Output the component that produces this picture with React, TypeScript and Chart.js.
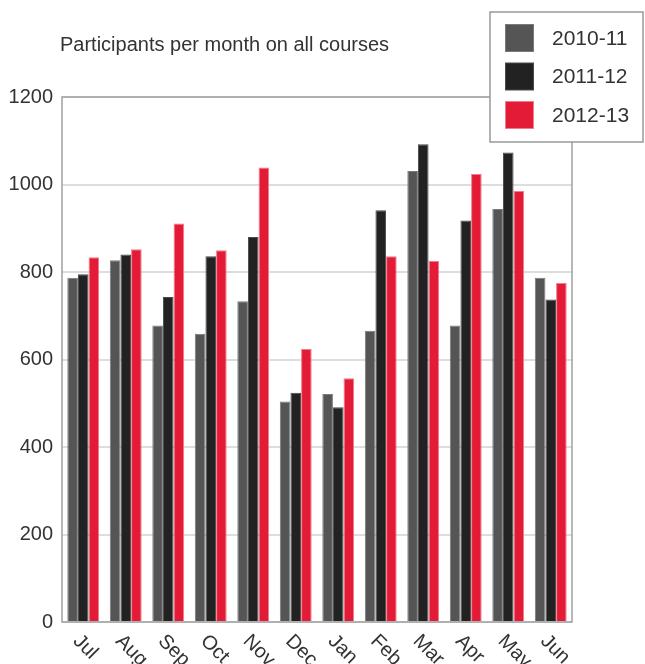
import React, { useEffect, useRef } from "react";
import { Chart, registerables } from "chart.js";

Chart.register(...registerables);

const categories = ["Jul", "Aug", "Sep", "Oct", "Nov", "Dec", "Jan", "Feb", "Mar", "Apr", "May", "Jun"];
const seriesLabels = ["2010-11", "2011-12", "2012-13"];
const values2010 = [787, 827, 678, 659, 733, 504, 521, 666, 1031, 678, 944, 787];
const values2011 = [795, 840, 743, 836, 880, 524, 491, 941, 1092, 918, 1073, 737];
const values2012 = [834, 852, 911, 850, 1039, 624, 557, 836, 825, 1024, 985, 775];
const chartTitle = "Participants per month on all courses";

const FONT = "'Liberation Sans', Arial, Helvetica, sans-serif";
const fills = ["#555555", "#222222", "#e31b37"];
const borders = ["#7a7a7a", "#4a4a4a", "#f27a8a"];

const customPlugin = {
  id: "custom",
  beforeDatasetsDraw(chart: any) {
    const { ctx, chartArea } = chart;
    ctx.save();
    ctx.strokeStyle = "#a0a0a0";
    ctx.lineWidth = 1.5;
    ctx.strokeRect(chartArea.left, chartArea.top, chartArea.right - chartArea.left, chartArea.bottom - chartArea.top);
    ctx.restore();
  },
  afterDraw(chart: any) {
    const { ctx, chartArea } = chart;
    const xScale = chart.scales.x;
    ctx.save();
    // title
    ctx.fillStyle = "#333333";
    ctx.font = `20px ${FONT}`;
    ctx.textAlign = "left";
    ctx.textBaseline = "middle";
    ctx.fillText(chartTitle, 60, 45);

    // x labels rotated clockwise
    ctx.font = `20px ${FONT}`;
    categories.forEach((c, i) => {
      const x = xScale.getPixelForValue(i);
      ctx.save();
      ctx.translate(x - 7, chartArea.bottom + 16);
      ctx.rotate(Math.PI / 4);
      ctx.textAlign = "left";
      ctx.textBaseline = "middle";
      ctx.fillText(c, 0, 0);
      ctx.restore();
    });

    // legend box
    const bx = 490, by = 12, bw = 153, bh = 130;
    ctx.fillStyle = "#ffffff";
    ctx.fillRect(bx, by, bw, bh);
    ctx.strokeStyle = "#999999";
    ctx.lineWidth = 1.5;
    ctx.strokeRect(bx, by, bw, bh);
    chart.data.datasets.forEach((ds: any, i: number) => {
      const sy = 24 + i * 38.5;
      ctx.fillStyle = ds.borderColor;
      ctx.fillRect(505, sy, 29, 28);
      ctx.fillStyle = ds.backgroundColor;
      ctx.fillRect(506, sy + 1, 27, 26);
      ctx.fillStyle = "#333333";
      ctx.font = `21px ${FONT}`;
      ctx.textAlign = "left";
      ctx.textBaseline = "middle";
      ctx.fillText(ds.label, 552, sy + 15);
    });
    ctx.restore();
  },
};

export default function App() {
  const ref = useRef<HTMLCanvasElement>(null);
  useEffect(() => {
    document.body.style.margin = "0";
    const chart = new Chart(ref.current as HTMLCanvasElement, {
      type: "bar",
      data: {
        labels: categories,
        datasets: [values2010, values2011, values2012].map((v, i) => ({
          label: seriesLabels[i],
          data: v,
          backgroundColor: fills[i],
          borderColor: borders[i],
          borderWidth: 1,
          categoryPercentage: 0.75,
          barPercentage: 1.0,
        })),
      },
      options: {
        animation: false,
        responsive: false,
        maintainAspectRatio: false,
        layout: { padding: { left: 0, right: 73, top: 97, bottom: 34 } },
        plugins: {
          legend: { display: false },
          title: { display: false },
          tooltip: { enabled: false },
        },
        scales: {
          x: {
            grid: { display: false },
            border: { display: false },
            ticks: { display: false },
          },
          y: {
            min: 0,
            max: 1200,
            afterFit: (scale: any) => {
              scale.width = 62;
            },
            ticks: {
              stepSize: 200,
              padding: 9,
              color: "#333333",
              font: { family: FONT, size: 20 },
              callback: (v: any) => String(v),
            },
            grid: {
              drawTicks: false,
              color: "#dddddd",
              lineWidth: 2,
            },
            border: { display: false },
          },
        },
      },
      plugins: [customPlugin],
    });
    return () => chart.destroy();
  }, []);
  return <canvas ref={ref} width={645} height={664} style={{ display: "block" }} />;
}
